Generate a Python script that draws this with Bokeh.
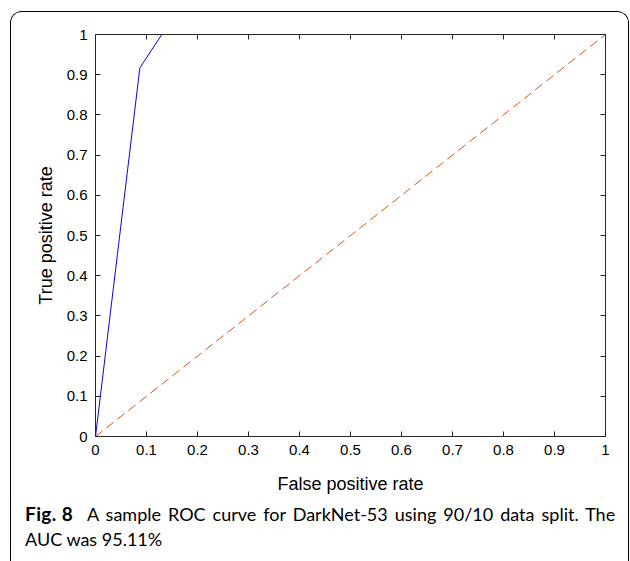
from bokeh.plotting import figure
from bokeh.models import LinearAxis, FixedTicker, Range1d, Div
from bokeh.layouts import column
from bokeh.embed import file_html
from bokeh.resources import INLINE

# ROC data
fpr = [0.0, 0.087, 0.130, 1.0]
tpr = [0.0, 0.917, 1.0, 1.0]
chance_x = [0.0, 1.0]
chance_y = [0.0, 1.0]

tick_vals = [0.0, 0.1, 0.2, 0.3, 0.4, 0.5, 0.6, 0.7, 0.8, 0.9, 1.0]
tick_labels = ["0", "0.1", "0.2", "0.3", "0.4", "0.5", "0.6", "0.7", "0.8", "0.9", "1"]

x_title = "False positive rate"
y_title = "True positive rate"
caption_bold = "Fig. 8"
caption_line1 = "A sample ROC curve for DarkNet-53 using 90/10 data split. The"
caption_line2 = "AUC was 95.11%"

p = figure(width=617, height=485, output_backend="svg", toolbar_location=None,
           x_range=Range1d(0, 1), y_range=Range1d(0, 1),
           min_border_left=84, min_border_right=23, min_border_top=22, min_border_bottom=61,
           x_axis_label=x_title, y_axis_label=y_title, margin=0)
p.xgrid.visible = False
p.ygrid.visible = False
p.outline_line_color = None
p.background_fill_color = "white"
p.border_fill_color = "white"

override = {v: l for v, l in zip(tick_vals, tick_labels)}

p.add_layout(LinearAxis(), "above")
p.add_layout(LinearAxis(), "right")

for ax in p.xaxis + p.yaxis:
    ax.ticker = FixedTicker(ticks=tick_vals)
    ax.major_label_overrides = override
    ax.major_tick_in = 5
    ax.major_tick_out = 0
    ax.minor_tick_line_color = None
    ax.axis_line_color = "#262626"
    ax.major_tick_line_color = "#262626"
    ax.major_label_text_font = "Liberation Sans"
    ax.major_label_text_font_size = "15px"
    ax.major_label_text_color = "#000000"
    ax.major_label_standoff = 8
    ax.axis_label_text_font = "Liberation Sans"
    ax.axis_label_text_font_size = "18px"
    ax.axis_label_text_font_style = "normal"
    ax.axis_label_text_color = "#000000"

p.below[0].axis_label_standoff = 16
p.left[0].axis_label_standoff = 8
for ax in [p.above[0], p.right[0]]:
    ax.major_label_text_color = None
    ax.major_label_text_font_size = "1px"
    ax.major_label_standoff = 0

p.line(chance_x, chance_y, line_color="#D95319", line_width=1, line_dash="9 5")
p.line(fpr, tpr, line_color="#0000FF", line_width=1)

caption_html = (
    '<div style="font-family: Lato, sans-serif; font-size: 18px; line-height: 25px; '
    'padding: 3.5px 0 0 14px; white-space: nowrap; color: #000;">'
    f'<span style="display: inline-block; width: 62px; font-weight: 700; font-size: 19px; '
    f'letter-spacing: 0.4px;">{caption_bold}</span>'
    f'<span style="word-spacing: 2.4px;">{caption_line1}</span><br>{caption_line2}</div>'
)
cap = Div(text=caption_html, width=617, height=64, margin=0)

root = column(p, cap, spacing=0, margin=(11, 0, 0, 10),
              styles={"border-left": "1px solid #000", "border-right": "1px solid #000",
                      "border-top": "1px solid #000",
                      "border-top-left-radius": "12px", "border-top-right-radius": "12px",
                      "overflow": "hidden"})

open("out.html", "w").write(file_html(root, INLINE))
